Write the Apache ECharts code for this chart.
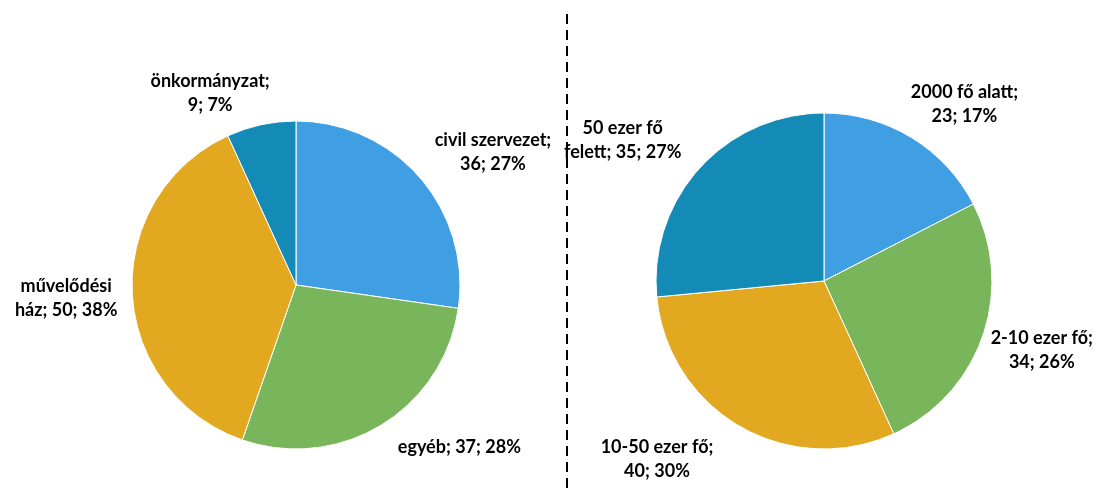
<!DOCTYPE html>
<html>
<head>
<meta charset="utf-8">
<script src="https://cdn.jsdelivr.net/npm/echarts@6/dist/echarts.min.js"></script>
<style>
html,body{margin:0;padding:0;background:#fff;}
#c{width:1105px;height:498px;}
</style>
</head>
<body>
<div id="c"></div>
<script>
// Left pie: organiser type
const leftCategories = ['civil szervezet', 'egyéb', 'művelődési ház', 'önkormányzat'];
const leftValues = [36, 37, 50, 9];
// Right pie: settlement size
const rightCategories = ['2000 fő alatt', '2-10 ezer fő', '10-50 ezer fő', '50 ezer fő felett'];
const rightValues = [23, 34, 40, 35];

const colors = ['#409EE2', '#79B55B', '#E2A81F', '#148BB6'];

// label wrapping style: 'nameBreak' = "name;\nvalue; pct", 'oneLine', 'splitName' = first word(s) then rest
const leftWrap = ['nameBreak', 'oneLine', 'splitName', 'nameBreak'];
const rightWrap = ['nameBreak', 'nameBreak', 'nameBreak', 'splitName'];
// label offsets from the slice edge (layout only)
const leftOffsets = [[73, -25], [78, 22], [-66, 5], [-51, -32]];
const rightOffsets = [[53, -33], [59, 14], [-83, 33], [-77, -28]];

function fmt(wrap) {
  return function (p) {
    const w = wrap[p.dataIndex];
    const tail = p.value + '; ' + p.percent + '%';
    if (w === 'oneLine') return p.name + '; ' + tail;
    if (w === 'splitName') {
      const parts = p.name.split(' ');
      const last = parts.pop();
      return parts.join(' ') + '\n' + last + '; ' + tail;
    }
    return p.name + ';\n' + tail;
  };
}

function makeSeries(cats, vals, wrap, offsets, center, radius) {
  return {
    type: 'pie',
    center: center,
    radius: radius,
    startAngle: 90,
    clockwise: true,
    avoidLabelOverlap: false,
    animation: false,
    silent: true,
    percentPrecision: 0,
    itemStyle: { borderColor: '#ffffff', borderWidth: 1 },
    label: {
      show: true,
      position: 'outside',
      distanceToLabelLine: 0,
      formatter: fmt(wrap),
      fontFamily: 'Lato, "Open Sans", sans-serif',
      fontWeight: 'bold',
      fontSize: 18,
      lineHeight: 24,
      color: '#000',
      align: 'center'
    },
    labelLine: { show: false, length: 0, length2: 0 },
    labelLayout: function (params) {
      const o = offsets[params.dataIndex];
      return { dx: o[0], dy: o[1], align: 'center', verticalAlign: 'middle' };
    },
    data: cats.map((n, i) => ({ name: n, value: vals[i], itemStyle: { color: colors[i] } }))
  };
}

const chart = echarts.init(document.getElementById('c'), null, { renderer: 'canvas' });
chart.setOption({
  backgroundColor: '#ffffff',
  series: [
    makeSeries(leftCategories, leftValues, leftWrap, leftOffsets, [296, 285], 164),
    makeSeries(rightCategories, rightValues, rightWrap, rightOffsets, [824, 281], 168)
  ],
  graphic: [{
    type: 'line',
    shape: { x1: 567, y1: 14, x2: 567, y2: 492 },
    style: { stroke: '#000', lineWidth: 2, lineDash: [10, 6] },
    silent: true
  }]
});
</script>
</body>
</html>
